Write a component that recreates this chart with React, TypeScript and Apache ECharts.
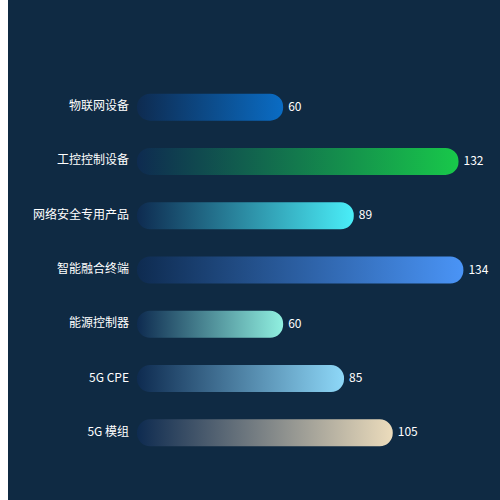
import { useEffect, useRef } from 'react'
import * as echarts from 'echarts'

const categories = ['物联网设备', '工控控制设备', '网络安全专用产品', '智能融合终端', '能源控制器', '5G CPE', '5G 模组']
const values = [60, 132, 89, 134, 60, 85, 105]
const endColors = ['#0a6cc4', '#18c84a', '#4aeef8', '#4a94f6', '#90f0e0', '#8ed8f8', '#ecdcbc']
const startColor = '#0e2b50'

export default function App() {
  const chartRef = useRef<HTMLDivElement>(null)

  useEffect(() => {
    if (!chartRef.current) return
    const chart = echarts.init(chartRef.current, undefined, { renderer: 'svg' })

    const option = {
      animation: false,
      backgroundColor: '#0f2a43',
      grid: {
        left: 129,
        right: 22,
        top: 80,
        bottom: 40
      },
      xAxis: {
        type: 'value',
        min: 0,
        max: 140,
        show: false
      },
      yAxis: {
        type: 'category',
        inverse: true,
        data: categories,
        axisLine: { show: false },
        axisTick: { show: false },
        splitLine: { show: false },
        axisLabel: {
          color: '#ffffff',
          fontSize: 12,
          margin: 8,
          fontFamily: 'Noto Sans CJK SC',
          formatter: '{a|{value}}',
          rich: {
            a: {
              color: '#ffffff',
              fontSize: 12,
              fontFamily: 'Noto Sans CJK SC',
              padding: [0, 0, 5, 0]
            }
          }
        }
      },
      series: [
        {
          type: 'bar',
          barWidth: 27,
          data: values.map((v, i) => ({
            value: v,
            itemStyle: {
              borderRadius: 13,
              color: new echarts.graphic.LinearGradient(0, 0, 1, 0, [
                { offset: 0, color: startColor },
                { offset: 1, color: endColors[i] }
              ])
            }
          })),
          label: {
            show: true,
            position: 'right',
            distance: 5,
            offset: [0, -2],
            color: '#ffffff',
            fontSize: 12,
            fontFamily: 'Noto Sans CJK SC'
          }
        }
      ]
    }

    chart.setOption(option)

    return () => {
      chart.dispose()
    }
  }, [])

  return (
    <div
      ref={chartRef}
      style={{ position: 'absolute', left: 8, top: 0, width: 492, height: 500 }}
    />
  )
}
